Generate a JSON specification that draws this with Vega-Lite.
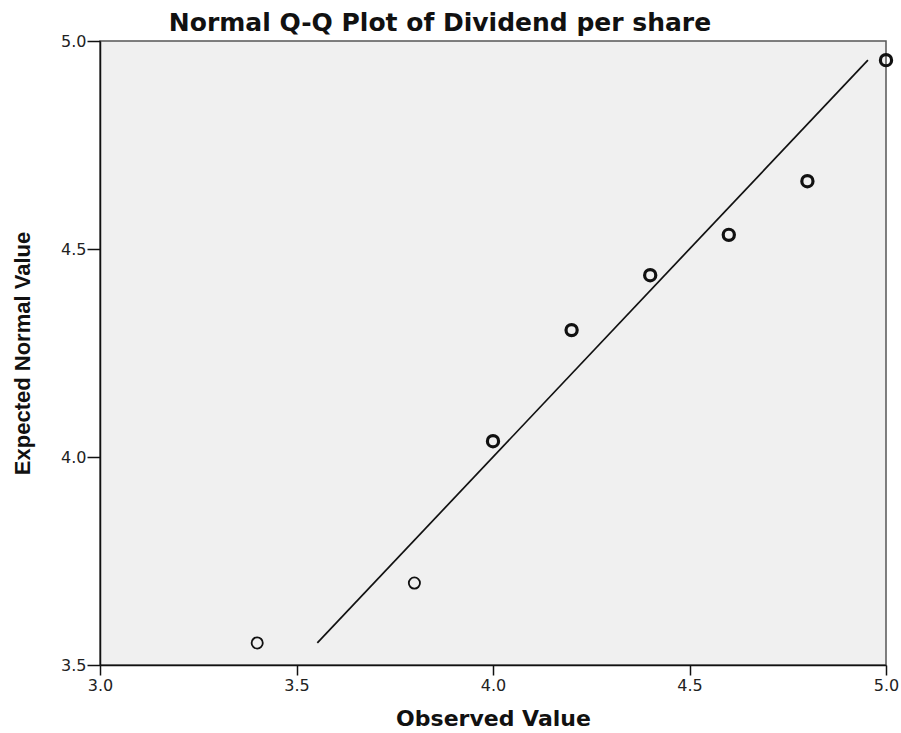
{
  "$schema": "https://vega.github.io/schema/vega-lite/v6.json",
  "width": 786,
  "height": 624,
  "autosize": {"type": "none"},
  "padding": {"left": 100, "top": 41, "right": 15, "bottom": 68},
  "background": "white",
  "config": {
    "view": {"fill": "#f0f0f0", "stroke": "#555", "strokeWidth": 1.5},
    "font": "Liberation Sans"
  },
  "title": {
    "text": "Normal Q-Q Plot of Dividend per share",
    "fontSize": 25,
    "fontWeight": "bold",
    "font": "DejaVu Sans",
    "color": "#111",
    "anchor": "middle",
    "dx": -53,
    "offset": 5,
    "dy": 8
  },
  "datasets": {
    "pts": [
      {"observed": 3.4, "expected": 3.553, "cases": 1},
      {"observed": 3.8, "expected": 3.697, "cases": 1},
      {"observed": 4.0, "expected": 4.038, "cases": 2},
      {"observed": 4.2, "expected": 4.305, "cases": 2},
      {"observed": 4.4, "expected": 4.437, "cases": 2},
      {"observed": 4.6, "expected": 4.534, "cases": 2},
      {"observed": 4.8, "expected": 4.663, "cases": 2},
      {"observed": 5.0, "expected": 4.954, "cases": 2}
    ],
    "ref": [
      {"observed": 3.553, "expected": 3.553},
      {"observed": 4.954, "expected": 4.954}
    ]
  },
  "layer": [
    {
      "data": {"name": "ref"},
      "mark": {"type": "line", "color": "#111", "strokeWidth": 1.7},
      "encoding": {
        "x": {"field": "observed", "type": "quantitative"},
        "y": {"field": "expected", "type": "quantitative"}
      }
    },
    {
      "data": {"name": "pts"},
      "mark": {"type": "point", "shape": "circle", "filled": false, "color": "#111", "size": 125, "clip": false, "opacity": 1},
      "encoding": {
        "strokeWidth": {"field": "cases", "type": "quantitative", "scale": {"domain": [1, 2], "range": [1.8, 3.2]}, "legend": null},
        "x": {
          "field": "observed", "type": "quantitative",
          "scale": {"domain": [3.0, 5.0], "nice": false, "zero": false},
          "axis": {
            "title": "Observed Value", "values": [3.0, 3.5, 4.0, 4.5, 5.0], "format": ".1f", "labelFlush": false,
            "grid": false, "domainColor": "#111", "domainWidth": 1.5, "tickColor": "#111", "tickWidth": 1.5, "tickSize": 10,
            "labelFontSize": 16, "labelColor": "#222", "labelPadding": 2, "labelFont": "DejaVu Sans",
            "titleFontSize": 22, "titleFontWeight": "bold", "titleColor": "#111", "titleFont": "DejaVu Sans",
            "titleY": 53, "titleBaseline": "middle"
          }
        },
        "y": {
          "field": "expected", "type": "quantitative",
          "scale": {"domain": [3.5, 5.0], "nice": false, "zero": false},
          "axis": {
            "title": "Expected Normal Value", "values": [3.5, 4.0, 4.5, 5.0], "format": ".1f", "labelFlush": false,
            "grid": false, "domainColor": "#111", "domainWidth": 1.5, "tickColor": "#111", "tickWidth": 1.5, "tickSize": 13,
            "labelFontSize": 16, "labelColor": "#222", "labelPadding": 1, "labelFont": "DejaVu Sans",
            "titleFontSize": 22, "titleFontWeight": "bold", "titleColor": "#111", "titleFont": "Liberation Sans",
            "titleX": -78, "titleY": 312, "titleBaseline": "middle", "titleAngle": -90
          }
        }
      }
    }
  ]
}
